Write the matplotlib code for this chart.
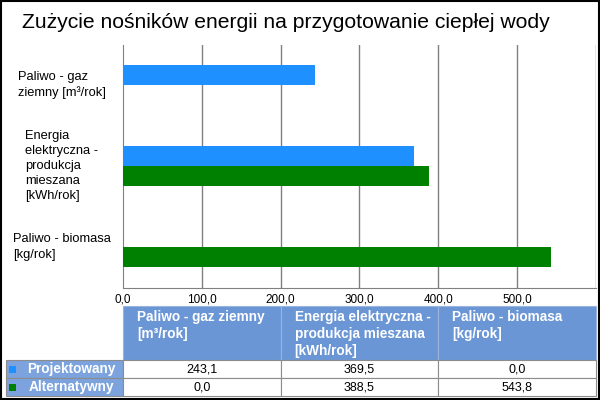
import matplotlib.pyplot as plt
from matplotlib.patches import Rectangle

plt.rcParams["font.family"] = ["Liberation Sans", "DejaVu Sans"]

title = "Zużycie nośników energii na przygotowanie ciepłej wody"
categories = [
    "Paliwo - gaz\nziemny [m³/rok]",
    "Energia\nelektryczna -\nprodukcja\nmieszana\n[kWh/rok]",
    "Paliwo - biomasa\n[kg/rok]",
]
header_labels = [
    "Paliwo - gaz ziemny\n[m³/rok]",
    "Energia elektryczna -\nprodukcja mieszana\n[kWh/rok]",
    "Paliwo - biomasa\n[kg/rok]",
]
series_names = ["Projektowany", "Alternatywny"]
projektowany = [243.1, 369.5, 0.0]
alternatywny = [0.0, 388.5, 543.8]
xticks = [0, 100, 200, 300, 400, 500]

blue = "#1E90FF"
green = "#008000"
head_bg = "#6A96D6"
grid_c = "#808080"

W, H = 600, 400
fig = plt.figure(figsize=(6, 4), dpi=100)
fig.patch.set_facecolor("white")

# plot area in pixels
L, R, T, B = 123, 595.7, 44.5, 288
ax = fig.add_axes([L / W, 1 - B / H, (R - L) / W, (B - T) / H])

pos = [i + 0.5 for i in range(len(categories))]
bh = 0.247
ax.barh([p - bh / 2 for p in pos], projektowany, height=bh, color=blue, zorder=3)
ax.barh([p + bh / 2 for p in pos], alternatywny, height=bh, color=green, zorder=3)
ax.set_ylim(len(categories), 0)
ax.set_xlim(0, 600)
for v in range(100, 700, 100):
    ax.axvline(v, color=grid_c, lw=1, zorder=1)
ax.set_yticks([])
ax.set_xticks(xticks)
ax.set_xticklabels([f"{v:.1f}".replace(".", ",") for v in xticks], fontsize=8.5)
ax.tick_params(axis="x", length=0, pad=4, colors="black")
for s in ["top", "right"]:
    ax.spines[s].set_visible(False)
for s in ["left", "bottom"]:
    ax.spines[s].set_color(grid_c)

# overlay axes in pixel coordinates for title, labels and table
ov = fig.add_axes([0, 0, 1, 1], zorder=5)
ov.set_xlim(0, W)
ov.set_ylim(H, 0)
ov.axis("off")
ov.patch.set_alpha(0)

ov.text(22, 27.5, title, fontsize=15.2, va="baseline", ha="left")

cat_y = [85, 166, 247]
for y, lab in zip(cat_y, categories):
    ov.text(62, y, lab, fontsize=9.3, ha="center", va="center",
            multialignment="left", linespacing=1.36)

# table
col_edges = [L, L + (R - L) / 3, L + 2 * (R - L) / 3, R]
hdr_top, hdr_bot = 306, 360
row_edges = [360, 378, 396]
lab_left = 6

for i in range(3):
    x0, x1 = col_edges[i], col_edges[i + 1]
    ov.add_patch(Rectangle((x0, hdr_top), x1 - x0, hdr_bot - hdr_top,
                           facecolor=head_bg, edgecolor="#9ab4dc", lw=0.8))
    ov.text(x0 + 14, hdr_top + 4, header_labels[i], color="white", fontsize=9.8,
            fontweight="bold", ha="left", va="top", linespacing=1.25)

series_vals = [projektowany, alternatywny]
series_cols = [blue, green]
for r in range(2):
    y0, y1 = row_edges[r], row_edges[r + 1]
    ov.add_patch(Rectangle((lab_left, y0), L - lab_left, y1 - y0,
                           facecolor="#7CA3DE", edgecolor="#8c8c8c", lw=0.8))
    ov.add_patch(Rectangle((9, (y0 + y1) / 2 - 3.5), 7, 7,
                           facecolor=series_cols[r], edgecolor="none"))
    ov.text(71, (y0 + y1) / 2 + 0.5, series_names[r], color="white", fontsize=9.8,
            fontweight="bold", ha="center", va="center")
    for i in range(3):
        x0, x1 = col_edges[i], col_edges[i + 1]
        ov.add_patch(Rectangle((x0, y0), x1 - x0, y1 - y0,
                               facecolor="white", edgecolor="#8c8c8c", lw=0.8))
        ov.text((x0 + x1) / 2, (y0 + y1) / 2 + 0.5,
                f"{series_vals[r][i]:.1f}".replace(".", ","),
                fontsize=9, ha="center", va="center")

# outer border
ov.add_patch(Rectangle((1, 1), W - 2, H - 2, facecolor="none",
                       edgecolor="black", lw=1.5))

fig.savefig("out.png", dpi=100)
